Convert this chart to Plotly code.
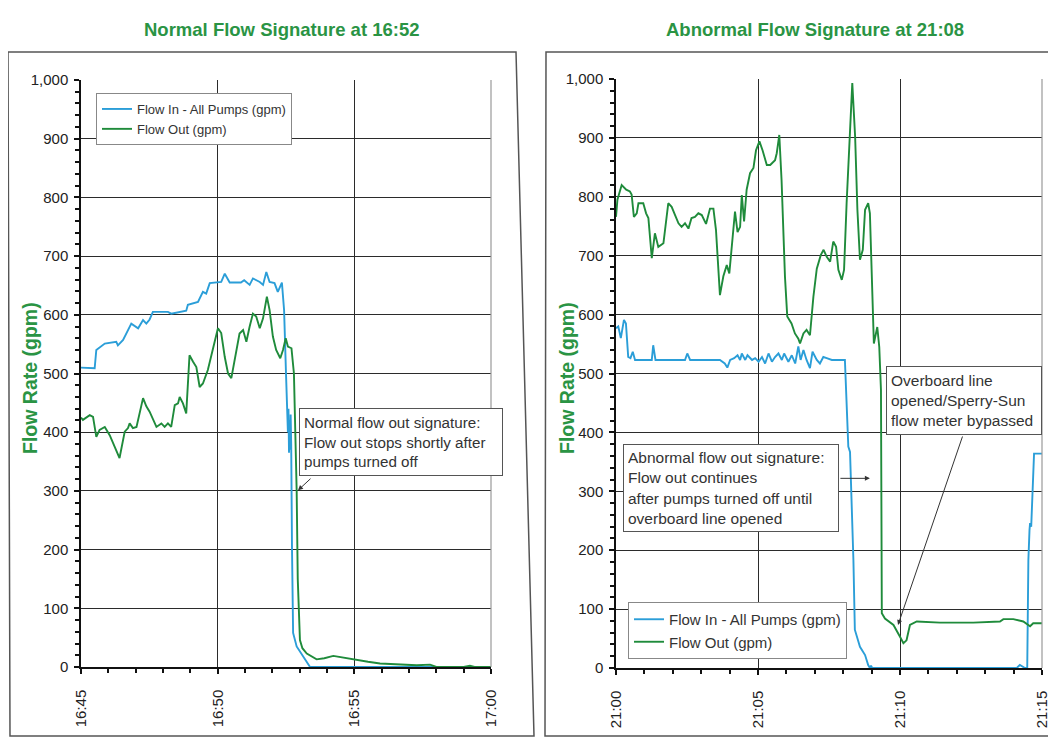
import plotly.graph_objects as go

# ---------------- data (minutes after start) ----------------
left_ticks = ["16:45", "16:50", "16:55", "17:00"]
right_ticks = ["21:00", "21:05", "21:10", "21:15"]
tick_minutes = [0, 5, 10, 15]

left_in_t = [0, 0.5, 0.56, 0.87, 1.29, 1.35, 1.54, 1.84, 2.09, 2.27, 2.39, 2.51, 2.63, 3.18, 3.3,
             3.85, 3.91, 4.28, 4.46, 4.58, 4.71, 5.13, 5.26, 5.44, 5.85, 5.97, 6.17, 6.29, 6.54,
             6.66, 6.78, 6.9, 7.08, 7.2, 7.35, 7.43, 7.5, 7.55, 7.57, 7.59, 7.61, 7.63, 7.65, 7.67,
             7.69, 7.72, 7.76, 7.89, 8.14, 8.38, 15]
left_in_v = [510, 509, 540, 551, 554, 548, 557, 585, 577, 591, 585, 592, 605, 605, 602,
             607, 617, 622, 639, 636, 654, 656, 670, 655, 655, 659, 651, 662, 656,
             651, 673, 656, 654, 639, 655, 608, 500, 440, 400, 440, 365, 420, 370, 430,
             380, 200, 58, 35, 17, 0, 0]

left_out_t = [0, 0.07, 0.32, 0.44, 0.56, 0.68, 0.87, 1.05, 1.41, 1.6, 1.72, 1.78, 1.9, 2.03, 2.27,
              2.39, 2.51, 2.76, 2.94, 3.06, 3.18, 3.3, 3.43, 3.55, 3.61, 3.73, 3.85, 3.97, 4.1,
              4.22, 4.34, 4.46, 4.64, 4.77, 4.89, 5.01, 5.13, 5.26, 5.38, 5.5, 5.62, 5.8, 5.93,
              6.05, 6.17, 6.29, 6.41, 6.54, 6.66, 6.8, 6.9, 7.02, 7.14, 7.29, 7.39, 7.49, 7.57,
              7.7, 7.79, 7.84, 7.89, 7.93, 7.96, 8.01, 8.1, 8.26, 8.62, 8.9, 9.23, 9.6, 10.0,
              10.5, 10.94, 11.5, 12.28, 12.77, 13.0, 14.0, 14.23, 14.4, 15]
left_out_v = [425, 421, 429, 426, 392, 404, 409, 395, 356, 401, 407, 415, 407, 409, 458,
              444, 435, 409, 415, 409, 415, 409, 446, 449, 460, 449, 432, 531, 520,
              511, 477, 483, 506, 534, 554, 577, 569, 528, 500, 492, 522, 568, 574,
              554, 580, 602, 597, 577, 594, 631, 608, 563, 540, 526, 540, 560, 546,
              543, 500, 398, 301, 150, 92, 46, 32, 23, 13, 15, 19, 16, 12,
              9, 6, 5, 3, 4, 0, 0, 2, 0, 0]

right_in_t = [0, 0.08, 0.17, 0.28, 0.35, 0.43, 0.51, 0.59, 0.67, 1.26, 1.31, 1.39, 2.43, 2.51,
              2.61, 3.66, 3.83, 3.92, 4.02, 4.16, 4.28, 4.37, 4.43, 4.55, 4.63, 4.79, 4.9, 5.02,
              5.14, 5.25, 5.37, 5.49, 5.6, 5.72, 5.84, 5.92, 6.07, 6.19, 6.31, 6.42, 6.5, 6.6,
              6.71, 6.83, 6.92, 7.07, 7.18, 7.3, 7.42, 7.6, 8.06, 8.12, 8.18, 8.24, 8.36, 8.41,
              8.59, 8.77, 8.88, 8.94, 8.98, 9.02, 14.11, 14.22, 14.4, 14.48, 14.52, 14.56,
              14.58, 14.62, 14.72, 15]
right_in_v = [577, 580, 560, 591, 585, 528, 526, 537, 523, 523, 548, 523, 523, 534,
              523, 523, 517, 510, 523, 526, 531, 523, 534, 523, 531, 523, 526, 520,
              528, 517, 534, 520, 528, 534, 523, 534, 520, 531, 517, 546, 523, 540,
              523, 509, 537, 523, 517, 528, 526, 523, 523, 450, 376, 367, 183, 65,
              36, 22, 5, 0, 4, 0, 0, 5, 0, 0, 183, 234,
              246, 240, 364, 364]

right_out_t = [0, 0.05, 0.2, 0.36, 0.49, 0.55, 0.63, 0.73, 0.79, 0.96, 1.06, 1.14, 1.26, 1.37,
               1.49, 1.67, 1.84, 1.96, 2.08, 2.2, 2.31, 2.43, 2.55, 2.66, 2.78, 2.9, 3.02, 3.17,
               3.31, 3.43, 3.52, 3.66, 3.78, 3.9, 3.99, 4.07, 4.19, 4.28, 4.37, 4.43, 4.51, 4.6,
               4.72, 4.84, 4.93, 5.05, 5.16, 5.31, 5.43, 5.6, 5.66, 5.75, 5.83, 5.95, 6.03, 6.18,
               6.3, 6.42, 6.48, 6.6, 6.71, 6.83, 6.95, 7.07, 7.21, 7.31, 7.42, 7.54, 7.65, 7.75,
               7.83, 7.95, 8.03, 8.12, 8.22, 8.32, 8.42, 8.5, 8.59, 8.69, 8.77, 8.88, 8.94, 9.0,
               9.08, 9.2, 9.27, 9.33, 9.36, 9.47, 9.77, 10.0, 10.12, 10.23, 10.35, 10.59, 11.41,
               12.58, 13.52, 13.64, 13.99, 14.34, 14.58, 14.69, 15]
right_out_v = [766, 795, 820, 812, 809, 804, 766, 772, 789, 789, 772, 764, 696, 738,
               715, 721, 789, 783, 769, 755, 749, 755, 746, 764, 766, 772, 769, 754,
               780, 780, 744, 633, 665, 684, 670, 710, 775, 740, 749, 803, 758, 812,
               840, 849, 879, 894, 879, 854, 854, 862, 874, 905, 828, 664, 597, 585,
               568, 559, 551, 568, 574, 565, 630, 678, 701, 710, 698, 690, 724, 715,
               676, 659, 676, 789, 902, 993, 902, 778, 693, 710, 778, 789, 772, 676,
               551, 579, 545, 472, 93, 84, 73, 53, 42, 47, 73, 79, 77,
               77, 79, 83, 83, 79, 71, 76, 76]

name_in = "Flow In - All Pumps (gpm)"
name_out = "Flow Out (gpm)"

# ---------------- styling ----------------
OFF = 8                      # page body margin
W, H = 1056 - OFF, 738 - OFF  # figure size
FONT = "Liberation Sans, Arial, sans-serif"
BLUE = "#2b9ed8"
GREEN = "#1f8b3b"
TGREEN = "#2a9444"
GRID = "#2b2b2b"
TICK = "#111"


def px(x):
    return (x - OFF) / W


def py(y):
    return 1 - (y - OFF) / H


fig = go.Figure()
fig.add_trace(go.Scatter(x=left_in_t, y=left_in_v, mode="lines", name=name_in,
                         line=dict(color=BLUE, width=1.9), xaxis="x", yaxis="y", legend="legend"))
fig.add_trace(go.Scatter(x=left_out_t, y=left_out_v, mode="lines", name=name_out,
                         line=dict(color=GREEN, width=1.9), xaxis="x", yaxis="y", legend="legend"))
fig.add_trace(go.Scatter(x=right_in_t, y=right_in_v, mode="lines", name=name_in,
                         line=dict(color=BLUE, width=1.9), xaxis="x2", yaxis="y2", legend="legend2"))
fig.add_trace(go.Scatter(x=right_out_t, y=right_out_v, mode="lines", name=name_out,
                         line=dict(color=GREEN, width=1.9), xaxis="x2", yaxis="y2", legend="legend2"))


def xaxis(domain, labels, anchor):
    return dict(domain=domain, anchor=anchor, range=[0, 15], tickmode="array",
                tickvals=tick_minutes, ticktext=labels, tickangle=-90, automargin=False,
                ticks="outside", ticklen=5, tickwidth=1.5, tickcolor=TICK, showline=True,
                linecolor=TICK, linewidth=1.5, showgrid=True, gridcolor=GRID, gridwidth=1.2,
                zeroline=False, ticklabelstandoff=10,
                tickfont=dict(family=FONT, size=15, color="#222"),
                minor=dict(tickmode="linear", tick0=0, dtick=1, ticks="outside", ticklen=4,
                           tickwidth=1.5, tickcolor=TICK, showgrid=False))


def yaxis(domain, anchor):
    return dict(domain=domain, anchor=anchor, range=[0, 1000], dtick=100, tickformat=",",
                automargin=False, ticklabelstandoff=3,
                ticks="outside", ticklen=5, tickwidth=1.5, tickcolor=TICK, showline=True,
                linecolor=TICK, linewidth=1.5, showgrid=True, gridcolor=GRID, gridwidth=1.2,
                zeroline=False,
                tickfont=dict(family=FONT, size=15, color="#222"),
                minor=dict(tickmode="linear", tick0=0, dtick=20, ticks="outside", ticklen=4,
                           tickwidth=1.5, tickcolor=TICK, showgrid=False))


fig.update_layout(
    width=W, height=H, margin=dict(l=0, r=0, t=0, b=0, autoexpand=False),
    paper_bgcolor="white", plot_bgcolor="white",
    font=dict(family=FONT, color="#222"),
    xaxis=xaxis([px(81), px(491)], left_ticks, "y"),
    yaxis=yaxis([py(667), py(80)], "x"),
    xaxis2=xaxis([px(616), px(1042)], right_ticks, "y2"),
    yaxis2=yaxis([py(668), py(79)], "x2"),
    legend=dict(x=px(96), y=py(93), xanchor="left", yanchor="top", bgcolor="white",
                bordercolor="#888", borderwidth=1, font=dict(family=FONT, size=13, color="#333"),
                itemwidth=30, tracegroupgap=0),
    legend2=dict(x=px(628), y=py(602), xanchor="left", yanchor="top", bgcolor="white",
                 bordercolor="#888", borderwidth=1, font=dict(family=FONT, size=15, color="#333"),
                 itemwidth=30, tracegroupgap=0),
    showlegend=True,
)

shapes = []
# outer frames
shapes.append(dict(type="path", xref="paper", yref="paper",
                   path=f"M {px(8)},{py(52)} L {px(516)},{py(52)} L {px(534)},{py(736)} L {px(10)},{py(736)} Z",
                   line=dict(color="#555", width=1.5)))
shapes.append(dict(type="path", xref="paper", yref="paper",
                   path=f"M 1.0,{py(52)} L {px(546)},{py(52)} L {px(545)},{py(736)} L 1.0,{py(736)}",
                   line=dict(color="#555", width=1.5)))
# right borders of plot areas
for xr, yr in (("x domain", "y domain"), ("x2 domain", "y2 domain")):
    shapes.append(dict(type="line", xref=xr, yref=yr, x0=1, x1=1, y0=0, y1=1,
                       line=dict(color="#999", width=1.2)))
fig.update_layout(shapes=shapes)

ann = []
ann.append(dict(text="<b>Normal Flow Signature at 16:52</b>", x=px(282), y=py(29), xref="paper",
                yref="paper", xanchor="center", yanchor="middle", showarrow=False,
                font=dict(family=FONT, size=18.5, color=TGREEN)))
ann.append(dict(text="<b>Abnormal Flow Signature at 21:08</b>", x=px(815), y=py(29), xref="paper",
                yref="paper", xanchor="center", yanchor="middle", showarrow=False,
                font=dict(family=FONT, size=18.5, color=TGREEN)))
for xx in (30, 567):
    ann.append(dict(text="<b>Flow Rate (gpm)</b>", x=px(xx), y=py(378), xref="paper", yref="paper",
                    xanchor="center", yanchor="middle", showarrow=False, textangle=-90,
                    font=dict(family=FONT, size=19.5, color=TGREEN)))

ann.append(dict(text="Normal flow out signature:<br>Flow out stops shortly after<br>pumps turned off",
                x=px(299), y=py(408), xref="paper", yref="paper", xanchor="left", yanchor="top",
                showarrow=False, align="left", bgcolor="white", bordercolor="#555", borderwidth=1,
                borderpad=4, width=194, height=58, valign="middle",
                font=dict(family=FONT, size=15.2, color="#333")))
ann.append(dict(text="Abnormal flow out signature:<br>Flow out continues<br>after pumps turned off until<br>overboard line opened",
                x=px(623), y=py(444), xref="paper", yref="paper", xanchor="left", yanchor="top",
                showarrow=False, align="left", bgcolor="white", bordercolor="#555", borderwidth=1,
                borderpad=4, width=206, height=78, valign="middle",
                font=dict(family=FONT, size=15.5, color="#333")))
ann.append(dict(text="Overboard line<br>opened/Sperry-Sun<br>flow meter bypassed",
                x=px(886), y=py(366), xref="paper", yref="paper", xanchor="left", yanchor="top",
                showarrow=False, align="left", bgcolor="white", bordercolor="#555", borderwidth=1,
                borderpad=4, width=146, height=59, valign="middle",
                font=dict(family=FONT, size=15.5, color="#333")))
# arrows
arrow = dict(text="", showarrow=True, arrowhead=2, arrowsize=1, arrowwidth=1, arrowcolor="#333")
ann.append(dict(arrow, x=7.94, y=301, xref="x", yref="y", ax=14, ay=-13))
ann.append(dict(arrow, x=8.94, y=322, xref="x2", yref="y2", ax=-31, ay=0))
ann.append(dict(arrow, x=9.93, y=73, xref="x2", yref="y2", ax=65, ay=-190))
fig.update_layout(annotations=ann)

fig.write_html("out.html")
